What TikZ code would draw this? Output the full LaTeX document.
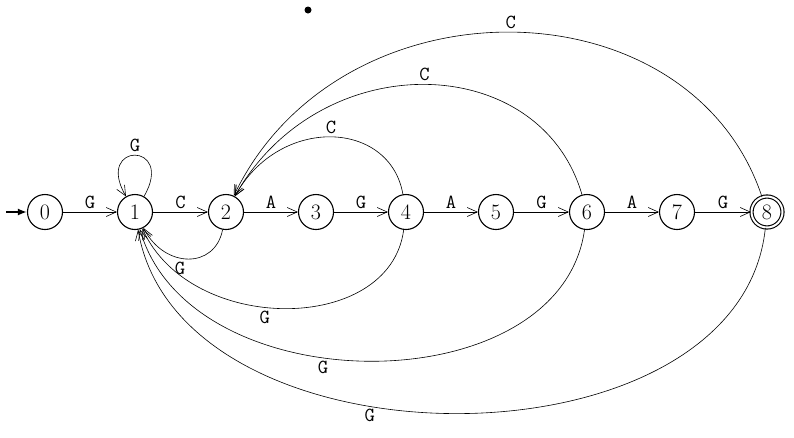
\documentclass[tikz,border=0pt]{standalone}
\usetikzlibrary{arrows.meta}
\tikzset{
  state/.style={circle,draw,line width=1.1pt,minimum size=35pt,inner sep=0pt,font=\fontsize{22}{22}\selectfont},
  accept/.style={state,double,double distance=2pt,minimum size=31pt},
  trans/.style={->,>={Straight Barb[length=10pt,width=9pt]},line width=0.6pt},
  lbl/.style={font=\ttfamily\fontsize{20}{20}\selectfont,inner sep=3pt}
}
\begin{document}
\begin{tikzpicture}[x=1pt,y=-1pt]
  \useasboundingbox (0,0) rectangle (794,437);
  % start dot
  \fill (308,10) circle (3.5);
  % states
  \node[state] (s0) at (45,212) {0};
  \node[state] (s1) at (135,212) {1};
  \node[state] (s2) at (226,212) {2};
  \node[state] (s3) at (316,212) {3};
  \node[state] (s4) at (406,212) {4};
  \node[state] (s5) at (496,212) {5};
  \node[state] (s6) at (587,212) {6};
  \node[state] (s7) at (677,212) {7};
  \node[accept] (s8) at (767,212) {8};
  \coordinate (start) at (6,212);
  % initial arrow
  \draw[-{Latex[length=9pt,width=7pt]},line width=2pt] (start) -- (s0);
  % forward edges
  \draw[trans] (s0) -- node[lbl,above] {G} (s1);
  \draw[trans] (s1) -- node[lbl,above] {C} (s2);
  \draw[trans] (s2) -- node[lbl,above] {A} (s3);
  \draw[trans] (s3) -- node[lbl,above] {G} (s4);
  \draw[trans] (s4) -- node[lbl,above] {A} (s5);
  \draw[trans] (s5) -- node[lbl,above] {G} (s6);
  \draw[trans] (s6) -- node[lbl,above] {A} (s7);
  \draw[trans] (s7) -- node[lbl,above] {G} (s8);
  % self loop
  \draw[trans] (s1) to[out=60,in=120,looseness=9] node[lbl,above] {G} (s1);
  % back edges to 2
  \draw[trans] (s4) .. controls (390,120) and (280,115) .. node[lbl,above] {C} (s2);
  \draw[trans] (s6) .. controls (540,50) and (320,45) .. node[lbl,above] {C} (s2);
  \draw[trans] (s8) .. controls (690,-20) and (340,-25) .. node[lbl,above] {C} (s2);
  % back edges to 1
  \draw[trans] (s2) .. controls (215,269) and (165,269) .. (s1);
  \node[lbl] at (180,268) {G};
  \draw[trans] (s4) .. controls (390,335) and (190,335) .. node[lbl,below,pos=0.56] {G} (s1);
  \draw[trans] (s6) .. controls (560,405) and (190,405) .. node[lbl,below,pos=0.58] {G} (s1);
  \draw[trans] (s8) .. controls (740,475) and (180,475) .. node[lbl,below,pos=0.6] {G} (s1);
\end{tikzpicture}
\end{document}
